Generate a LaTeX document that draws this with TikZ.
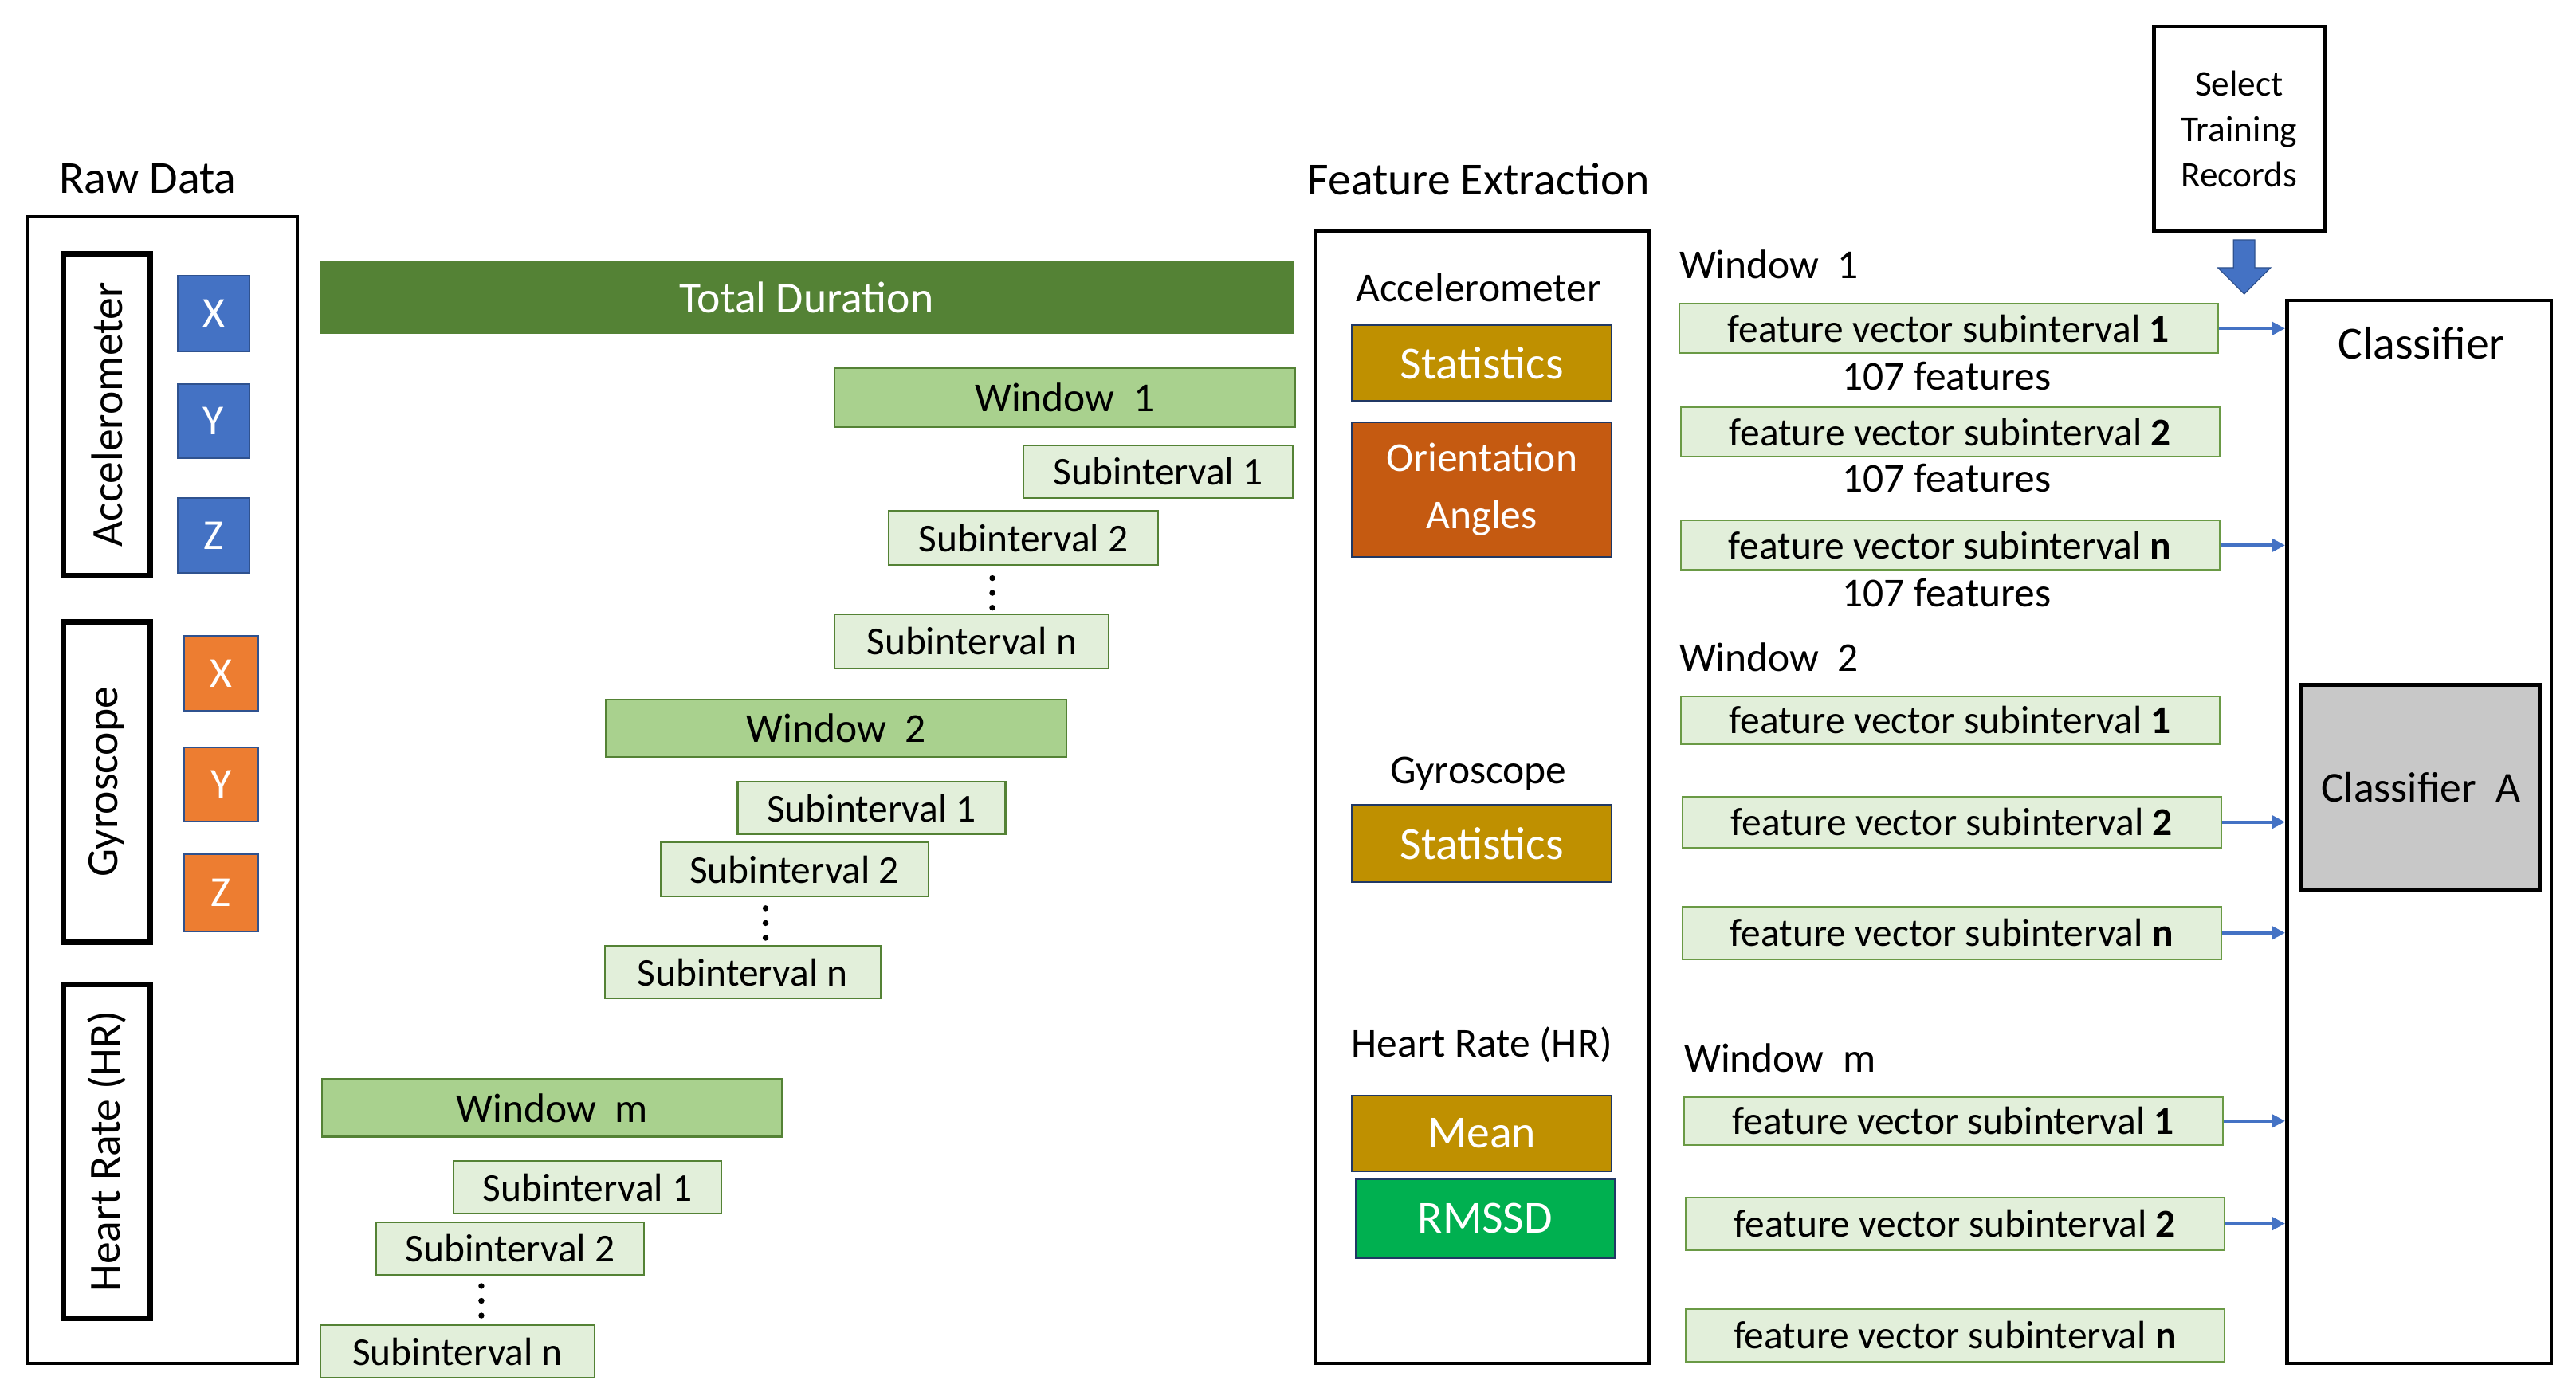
\documentclass[tikz,border=0pt]{standalone}
\usepackage{fontspec}
\setmainfont{Carlito}
\usetikzlibrary{arrows.meta}
\definecolor{dkgreen}{HTML}{548235}
\definecolor{wingreen}{HTML}{A9D18E}
\definecolor{subgreen}{HTML}{E2EFDA}
\definecolor{fvborder}{HTML}{6A9A45}
\definecolor{accblue}{HTML}{4472C4}
\definecolor{edgeblue}{HTML}{2F528F}
\definecolor{gyroorange}{HTML}{ED7D31}
\definecolor{goldfill}{HTML}{BF9000}
\definecolor{rustfill}{HTML}{C55A11}
\definecolor{rmgreen}{HTML}{00B050}
\definecolor{clsgray}{RGB}{200,200,200}
\definecolor{navyedge}{HTML}{203864}
\begin{document}
\begin{tikzpicture}[x=1pt,y=-1pt,
  bx/.style args={#1,#2,#3,#4}{at={({(#1+#3)/2},{(#2+#4)/2})},
    minimum width={(#3-#1)*1pt}, minimum height={(#4-#2)*1pt}},
  frame/.style={draw=black, line width=2.2pt, inner sep=0pt},
  sensor/.style={draw=black, line width=3.4pt, inner sep=0pt, rotate=90,
    minimum height=53pt, font=\fontsize{27}{32}\selectfont},
  axisbox/.style={draw=edgeblue, line width=1pt, inner sep=0pt, text=white,
    font=\fontsize{26}{31}\selectfont},
  total/.style={fill=dkgreen, draw=dkgreen, inner sep=0pt, text=white,
    font=\fontsize{27}{32}\selectfont},
  winbox/.style={fill=wingreen, draw=dkgreen, line width=1.2pt, inner sep=0pt,
    font=\fontsize{25}{30}\selectfont},
  subbox/.style={fill=subgreen, draw=dkgreen, line width=1pt, inner sep=0pt,
    font=\fontsize{24}{29}\selectfont},
  fvbox/.style={fill=subgreen, draw=fvborder, line width=1pt, inner sep=0pt,
    font=\fontsize{24}{29}\selectfont},
  featbox/.style={draw=navyedge, line width=1pt, inner sep=0pt, text=white,
    font=\fontsize{28}{33}\selectfont},
  lbl/.style={inner sep=0pt, font=\fontsize{25}{30}\selectfont},
  biglbl/.style={inner sep=0pt, font=\fontsize{28}{33}\selectfont},
  flow/.style={draw=accblue, line width=1.8pt, -{Triangle[length=8pt,width=8pt]}},
  dot/.style={fill=black}
]
\useasboundingbox (0,0) rectangle (1568,852);

% ---------- Raw data ----------
\node[biglbl] (rawT) at (90,109) {Raw Data};
\node[frame, bx={17,132,181,830}] (raw) {};
\node[sensor, minimum width=196pt] (acc) at (65,252.5) {Accelerometer};
\node[sensor, minimum width=195pt] (gyr) at (65,476) {Gyroscope};
\node[sensor, minimum width=203pt] (hr) at (65,701) {Heart Rate (HR)};
\node[axisbox, fill=accblue, bx={108,168,152,214}] (ax) {X};
\node[axisbox, fill=accblue, bx={108,234,152,279}] (ay) {Y};
\node[axisbox, fill=accblue, bx={108,303,152,349}] (az) {Z};
\node[axisbox, fill=gyroorange, bx={112,387,157,433}] (gx) {X};
\node[axisbox, fill=gyroorange, bx={112,455,157,500}] (gy) {Y};
\node[axisbox, fill=gyroorange, bx={112,520,157,567}] (gz) {Z};

% ---------- Windows ----------
\node[total, bx={195,159,787,203}] (tot) {Total Duration};

\node[winbox, bx={508,224,788,260}] (w1) {Window\ \ 1};
\node[subbox, bx={623,271,787,303}] (w1s1) {Subinterval 1};
\node[subbox, bx={541,311,705,344}] (w1s2) {Subinterval 2};
\node[subbox, bx={508,374,675,407}] (w1sn) {Subinterval n};
\fill[dot] (604,352) circle (1.8) (604,361) circle (1.8) (604,370) circle (1.8);

\node[winbox, bx={369,426,649,461}] (w2) {Window\ \ 2};
\node[subbox, bx={449,476,612,508}] (w2s1) {Subinterval 1};
\node[subbox, bx={402,513,565,546}] (w2s2) {Subinterval 2};
\node[subbox, bx={368,576,536,608}] (w2sn) {Subinterval n};
\fill[dot] (466,553) circle (1.8) (466,562) circle (1.8) (466,571) circle (1.8);

\node[winbox, bx={196,657,476,692}] (wm) {Window\ \ m};
\node[subbox, bx={276,707,439,739}] (wms1) {Subinterval 1};
\node[subbox, bx={229,744,392,776}] (wms2) {Subinterval 2};
\node[subbox, bx={195,807,362,839}] (wmsn) {Subinterval n};
\fill[dot] (293,783) circle (1.8) (293,792) circle (1.8) (293,801) circle (1.8);

% ---------- Feature extraction ----------
\node[biglbl] (feT) at (900,109) {Feature Extraction};
\node[frame, bx={801,141,1004,830}] (fe) {};
\node[lbl] (feAcc) at (900,175) {Accelerometer};
\node[featbox, fill=goldfill, bx={823,198,981,244}] (st1) {Statistics};
\node[featbox, fill=rustfill, align=center, font=\fontsize{25}{35}\selectfont,
  bx={823,257,981,339}] (ori) {Orientation\\Angles};
\node[lbl] (feGyr) at (900,471) {Gyroscope};
\node[featbox, fill=goldfill, bx={823,490,981,537}] (st2) {Statistics};
\node[lbl] (feHr) at (902,636) {Heart Rate (HR)};
\node[featbox, fill=goldfill, bx={823,667,981,713}] (mean) {Mean};
\node[featbox, fill=rmgreen, bx={825,718,983,766}] (rmssd) {RMSSD};

% ---------- Select training records ----------
\node[frame, align=center, font=\fontsize{22}{27.5}\selectfont,
  bx={1311,16,1415,141}] (sel) {Select\\Training\\Records};
\fill[accblue, draw=edgeblue, line width=0.6pt]
  (1359.5,146) -- (1372.5,146) -- (1372.5,163) -- (1382,163) -- (1366,179)
  -- (1350,163) -- (1359.5,163) -- cycle;

% ---------- Feature vectors ----------
\node[lbl, anchor=west] (fw1) at (1022,161) {Window\ \ 1};
\node[fvbox, bx={1022,185,1350,215}] (f11) {feature vector subinterval \textbf{1}};
\node[lbl] (n11) at (1185,229) {107 features};
\node[fvbox, bx={1023,248,1351,278}] (f12) {feature vector subinterval \textbf{2}};
\node[lbl] (n12) at (1185,291) {107 features};
\node[fvbox, bx={1023,317,1351,347}] (f1n) {feature vector subinterval \textbf{n}};
\node[lbl] (n1n) at (1185,361) {107 features};

\node[lbl, anchor=west] (fw2) at (1022,400) {Window\ \ 2};
\node[fvbox, bx={1023,424,1351,453}] (f21) {feature vector subinterval \textbf{1}};
\node[fvbox, bx={1024,485,1352,516}] (f22) {feature vector subinterval \textbf{2}};
\node[fvbox, bx={1024,552,1352,584}] (f2n) {feature vector subinterval \textbf{n}};

\node[lbl, anchor=west] (fwm) at (1025,644) {Window\ \ m};
\node[fvbox, bx={1025,668,1353,697}] (fm1) {feature vector subinterval \textbf{1}};
\node[fvbox, bx={1026,729,1354,761}] (fm2) {feature vector subinterval \textbf{2}};
\node[fvbox, bx={1026,797,1354,829}] (fmn) {feature vector subinterval \textbf{n}};

% ---------- Classifier ----------
\node[frame, bx={1392,183,1553,830}] (cls) {};
\node[biglbl] (clsT) at (1474,209) {Classifier};
\node[frame, line width=2.6pt, fill=clsgray, font=\fontsize{26}{31}\selectfont,
  bx={1401,417,1546,542}] (clsA) {Classifier\ \ A};

% ---------- Connectors ----------
\draw[flow] (f11.east) -- (f11.east -| cls.west);
\draw[flow] (f1n.east) -- (f1n.east -| cls.west);
\draw[flow] (f22.east) -- (f22.east -| cls.west);
\draw[flow] (f2n.east) -- (f2n.east -| cls.west);
\draw[flow] (fm1.east) -- (fm1.east -| cls.west);
\draw[flow] (fm2.east) -- (fm2.east -| cls.west);
\end{tikzpicture}
\end{document}
